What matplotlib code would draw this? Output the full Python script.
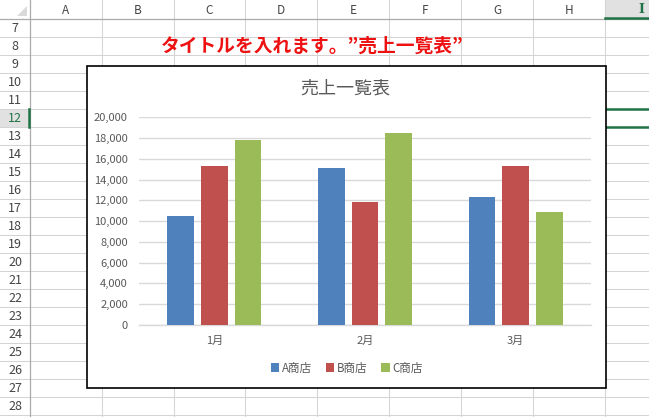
import matplotlib
matplotlib.use("Agg")
import matplotlib.pyplot as plt
from matplotlib.patches import Rectangle, Polygon
import numpy as np

plt.rcParams['font.family'] = ['Noto Sans CJK JP', 'DejaVu Sans']

# ---- data ----
months = ['1月', '2月', '3月']
series_names = ['A商店', 'B商店', 'C商店']
store_a = [10500, 15100, 12300]
store_b = [15300, 11800, 15300]
store_c = [17800, 18500, 10900]
series_values = [store_a, store_b, store_c]
series_colors = ['#4F81BD', '#C0504D', '#9BBB59']
y_ticks = [0, 2000, 4000, 6000, 8000, 10000, 12000, 14000, 16000, 18000, 20000]
chart_title = '売上一覧表'
sheet_title = 'タイトルを入れます。”売上一覧表”'
col_letters = ['A', 'B', 'C', 'D', 'E', 'F', 'G', 'H', 'I']
row_numbers = list(range(7, 29))

W, H = 649, 417
fig = plt.figure(figsize=(W / 100, H / 100), dpi=100)

# ---- spreadsheet background ----
bg = fig.add_axes([0, 0, 1, 1])
bg.set_xlim(0, W)
bg.set_ylim(H, 0)
bg.axis('off')

grid_c = '#D4D4D4'
hdr_line = '#ABABAB'
col_bounds = [29.5, 102, 173.5, 245, 317, 389, 461, 533, 605, 677]
header_bottom = 18.5
row_h = 18

# selected headers background
bg.add_patch(Rectangle((605, 0), 44, header_bottom, facecolor='#E1E1E1', edgecolor='none', zorder=0))
r12_top = header_bottom + (12 - 7) * row_h
bg.add_patch(Rectangle((0, r12_top), 29.5, row_h, facecolor='#E1E1E1', edgecolor='none', zorder=0))

# horizontal grid lines
y = header_bottom
while y < H + row_h:
    bg.plot([0, W], [y, y], color=grid_c, lw=0.75, zorder=1)
    y += row_h
# vertical grid lines
for x in col_bounds[1:]:
    bg.plot([x, x], [0, H], color=grid_c, lw=0.75, zorder=1)
bg.plot([0, W], [header_bottom, header_bottom], color=hdr_line, lw=0.9, zorder=2)
bg.plot([29.5, 29.5], [0, H], color=hdr_line, lw=0.9, zorder=2)

# corner triangle
bg.add_patch(Polygon([[27, 6], [27, 16], [17, 16]], closed=True, facecolor='#DADADA', edgecolor='none', zorder=2))

# column letters
for i, letter in enumerate(col_letters):
    cx = (col_bounds[i] + col_bounds[i + 1]) / 2
    if letter == 'I':
        cx = 641
        bg.text(cx, 9.5, letter, ha='center', va='center', fontsize=9, color='#217346',
                fontweight='bold', family='DejaVu Serif', zorder=3)
    else:
        bg.text(cx, 10, letter, ha='center', va='center', fontsize=8.5, color='#444444', zorder=3)

# row numbers
for i, r in enumerate(row_numbers):
    cy = header_bottom + i * row_h + row_h / 2 + 1
    col = '#217346' if r == 12 else '#444444'
    bg.text(15, cy, str(r), ha='center', va='center', fontsize=9, color=col, zorder=3)

# selection highlight
bg.plot([605, W], [17.5, 17.5], color='#217346', lw=1.8, zorder=3)
bg.plot([28.8, 28.8], [r12_top, r12_top + row_h], color='#217346', lw=1.8, zorder=3)
bg.plot([605, W], [r12_top, r12_top], color='#217346', lw=1.8, zorder=3)
bg.plot([605, W], [r12_top + row_h, r12_top + row_h], color='#217346', lw=1.8, zorder=3)

# sheet title text
bg.text(312, 46, sheet_title, ha='center', va='center', fontsize=13.5, color='#EE1111',
        fontweight='bold', zorder=3)

# chart box
bg.add_patch(Rectangle((87, 66), 518.5, 322, facecolor='white', edgecolor='black', lw=1.2, zorder=4))
bg.text(345, 88, chart_title, ha='center', va='center', fontsize=13, color='#595959', zorder=5)

# ---- chart ----
pl, pr, pt, pb = 139, 591, 117.3, 325
ax = fig.add_axes([pl / W, 1 - pb / H, (pr - pl) / W, (pb - pt) / H], zorder=6)
ax.patch.set_alpha(0)
x = np.arange(len(months))
bw = 0.176
step = 0.223
for k, (name, vals, c) in enumerate(zip(series_names, series_values, series_colors)):
    ax.bar(x + (k - 1) * step, vals, width=bw, color=c, label=name, zorder=3)

ax.set_xlim(-0.5, len(months) - 0.5)
ax.set_ylim(0, 20000)
ax.set_yticks(y_ticks)
ax.set_yticklabels([f'{v:,}' for v in y_ticks])
ax.set_xticks(x)
ax.set_xticklabels(months)
ax.yaxis.grid(True, color='#D9D9D9', lw=1.0, zorder=0)
ax.set_axisbelow(True)
for s in ['top', 'right', 'left']:
    ax.spines[s].set_visible(False)
ax.spines['bottom'].set_color('#D9D9D9')
ax.spines['bottom'].set_linewidth(1.0)
ax.tick_params(axis='both', length=0, labelsize=8, labelcolor='#595959')
ax.tick_params(axis='y', pad=8)
ax.tick_params(axis='x', pad=8)

leg = fig.legend(loc='center', bbox_to_anchor=(347 / W, 1 - 368 / H), ncol=3, frameon=False,
                 fontsize=8.3, handlelength=0.7, handleheight=0.7, handletextpad=0.25,
                 columnspacing=1.2, borderpad=0)
for t in leg.get_texts():
    t.set_color('#595959')
leg.set_zorder(7)

fig.savefig('out.png', dpi=100)
